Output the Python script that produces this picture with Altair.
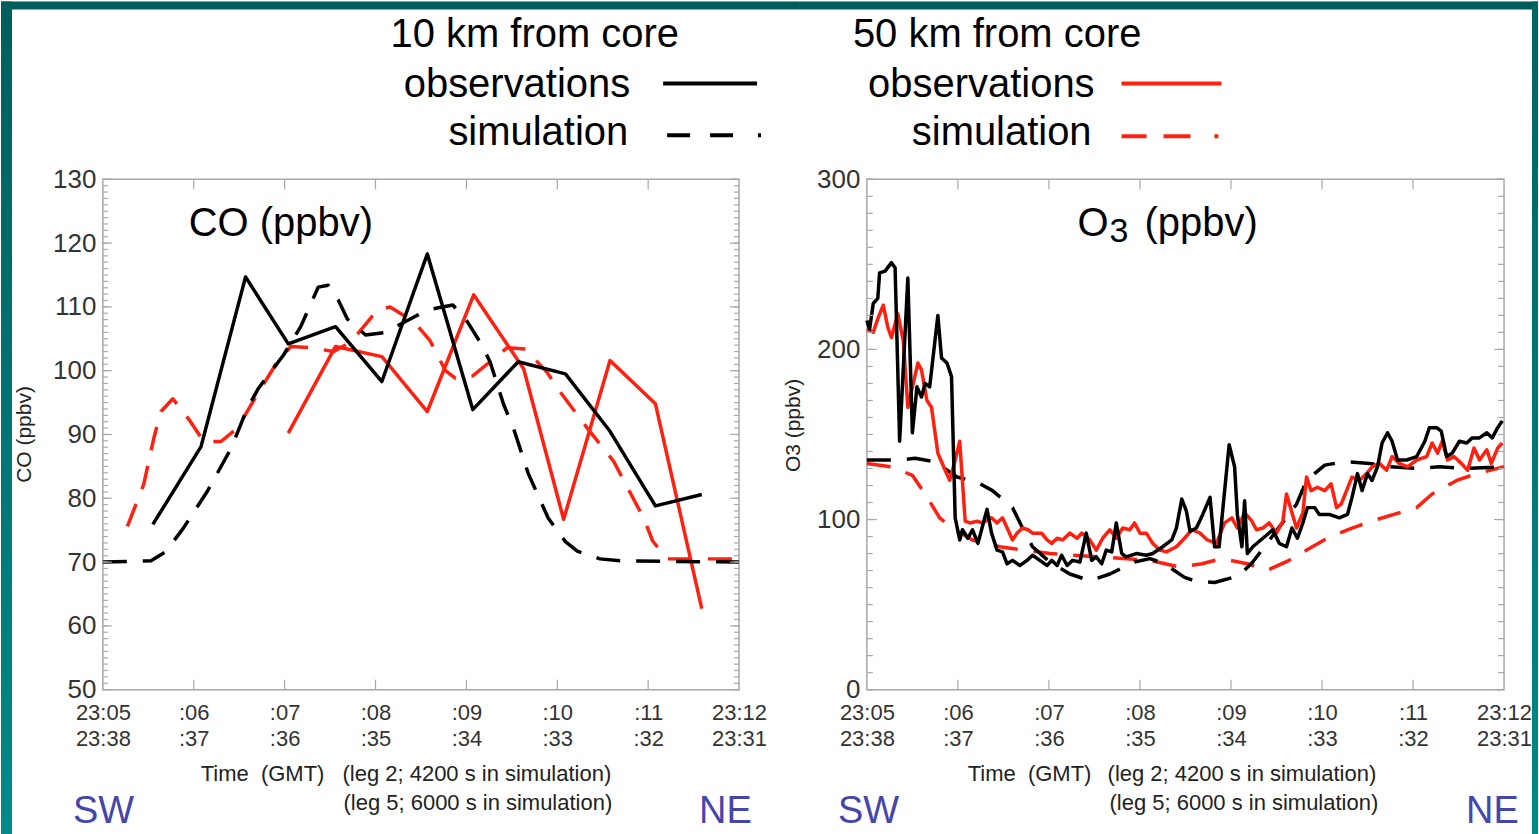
import altair as alt
import pandas as pd

FONT = "Liberation Sans"
RED = "#ff2010"
BLACK = "#000000"
BLUE = "#4646aa"
FRAME = "#a8a8a8"
LABEL = "#333333"
SIM_DASH = [24, 16]
NBSP = "\u00a0"

# ---------------- time axis (minutes after 23:05 on leg 2) ----------------
minutes = [0, 1, 2, 3, 4, 5, 6, 7]
leg2_labels = ["23:05", ":06", ":07", ":08", ":09", ":10", ":11", "23:12"]
leg5_labels = ["23:38", ":37", ":36", ":35", ":34", ":33", ":32", "23:31"]
inner_minutes = [1, 2, 3, 4, 5, 6]

# ---------------- CO (ppbv) ----------------
co_ticks = [50, 60, 70, 80, 90, 100, 110, 120, 130]
co_minor = list(range(50, 131))

co_obs10_t = [0.55, 1.08, 1.57, 2.04, 2.56, 3.07, 3.57, 4.07, 4.57, 5.09, 5.58, 6.08, 6.59]
co_obs10_v = [75.9, 88.1, 114.7, 104.2, 106.9, 98.3, 118.3, 93.9, 101.4, 99.5, 90.5, 78.8, 80.6]

co_obs50_t = [2.04, 2.56, 3.07, 3.57, 4.08, 4.63, 5.07, 5.58, 6.08, 6.59]
co_obs50_v = [90.2, 103.8, 102.2, 93.6, 111.9, 100.3, 76.7, 101.6, 94.8, 62.7]

co_sim10_t = [0.00, 0.53, 0.69, 0.88, 1.15, 1.41, 1.59, 1.71, 1.99, 2.18, 2.37, 2.48, 2.59,
              2.69, 2.89, 3.11, 3.33, 3.57, 3.85, 4.01, 4.15, 4.26, 4.41, 4.52, 4.68, 4.90,
              5.09, 5.22, 5.47, 5.69, 7.00]
co_sim10_v = [70.0, 70.2, 71.6, 75.2, 81.1, 87.8, 94.1, 97.2, 102.5, 107.0, 113.1, 113.4, 111.1,
              108.1, 105.6, 106.0, 107.7, 109.5, 110.3, 107.7, 104.5, 101.4, 94.7, 90.9, 83.9, 76.9,
              73.2, 71.7, 70.5, 70.2, 70.0]

co_sim50_t = [0.27, 0.45, 0.56, 0.64, 0.77, 0.95, 1.11, 1.30, 1.48, 1.70, 1.92, 2.07, 2.29,
              2.54, 2.73, 3.02, 3.16, 3.42, 3.60, 3.77, 3.88, 4.07, 4.26, 4.45, 4.65, 4.89,
              5.03, 5.33, 5.62, 5.95, 6.05, 6.21, 7.00]
co_sim50_v = [75.6, 82.2, 89.4, 93.6, 95.6, 92.3, 88.9, 88.9, 91.0, 96.3, 101.4, 103.8, 103.6,
              103.0, 104.5, 109.5, 110.0, 107.7, 104.7, 100.0, 98.8, 99.2, 101.4, 103.6, 103.4, 99.7,
              96.7, 91.0, 85.8, 76.9, 73.3, 70.5, 70.5]

# ---------------- O3 (ppbv) ----------------
o3_ticks = [0, 100, 200, 300]
o3_minor = list(range(0, 301, 10))

o3_obs10 = [
    (0.00, 217), (0.03, 212), (0.07, 227), (0.12, 230), (0.14, 245), (0.20, 246), (0.27, 251),
    (0.31, 248), (0.36, 146), (0.45, 242), (0.50, 151), (0.55, 178), (0.60, 172), (0.64, 180),
    (0.69, 178), (0.78, 220), (0.82, 195), (0.88, 192), (0.93, 184), (0.97, 101), (1.02, 88),
    (1.05, 94), (1.11, 89), (1.16, 94), (1.22, 86), (1.26, 94), (1.32, 106), (1.37, 92),
    (1.43, 82), (1.49, 81), (1.54, 74), (1.60, 76), (1.68, 73), (1.76, 76), (1.82, 79),
    (1.90, 76), (1.98, 73), (2.03, 76), (2.09, 73), (2.14, 79), (2.20, 73), (2.26, 76),
    (2.34, 75), (2.41, 92), (2.47, 76), (2.52, 78), (2.58, 74), (2.63, 82), (2.69, 81),
    (2.74, 98), (2.80, 80), (2.85, 78), (2.96, 80), (3.07, 79), (3.14, 80), (3.25, 84),
    (3.35, 88), (3.40, 95), (3.46, 112), (3.51, 105), (3.55, 93), (3.62, 95), (3.69, 103),
    (3.77, 113), (3.82, 84), (3.87, 84), (3.98, 144), (4.04, 131), (4.07, 103), (4.12, 84),
    (4.15, 111), (4.18, 80), (4.24, 84), (4.35, 89), (4.46, 94), (4.53, 86), (4.61, 84),
    (4.67, 95), (4.73, 89), (4.79, 98), (4.84, 107), (4.92, 107), (4.97, 103), (5.08, 103),
    (5.19, 101), (5.28, 103), (5.33, 113), (5.39, 127), (5.44, 117), (5.50, 127), (5.55, 123),
    (5.61, 131), (5.66, 145), (5.72, 151), (5.77, 146), (5.83, 135), (5.93, 135), (6.04, 137),
    (6.13, 146), (6.18, 154), (6.26, 154), (6.31, 152), (6.37, 137), (6.43, 139), (6.51, 146),
    (6.59, 145), (6.65, 148), (6.73, 148), (6.81, 151), (6.87, 148), (6.93, 154), (6.98, 158),
]

o3_obs50 = [
    (0.00, 212), (0.07, 210), (0.12, 218), (0.18, 226), (0.23, 213), (0.27, 207), (0.34, 221),
    (0.40, 205), (0.45, 166), (0.56, 192), (0.60, 188), (0.66, 170), (0.71, 166), (0.78, 139),
    (0.86, 129), (0.91, 123), (0.97, 135), (1.02, 146), (1.08, 99), (1.13, 98), (1.21, 99),
    (1.27, 98), (1.37, 101), (1.43, 98), (1.49, 101), (1.55, 94), (1.60, 88), (1.65, 92),
    (1.71, 95), (1.77, 94), (1.82, 92), (1.92, 92), (1.98, 88), (2.03, 86), (2.09, 89),
    (2.15, 88), (2.23, 92), (2.31, 89), (2.36, 92), (2.45, 88), (2.52, 82), (2.59, 89),
    (2.67, 94), (2.74, 89), (2.81, 95), (2.89, 94), (2.94, 98), (3.00, 92), (3.07, 92),
    (3.14, 86), (3.22, 82), (3.29, 81), (3.40, 84), (3.49, 89), (3.57, 94), (3.66, 92),
    (3.74, 88), (3.84, 86), (3.93, 98), (4.01, 101), (4.07, 95), (4.15, 104), (4.23, 99),
    (4.28, 94), (4.35, 95), (4.42, 98), (4.50, 92), (4.57, 99), (4.61, 115), (4.67, 104),
    (4.72, 95), (4.79, 104), (4.83, 125), (4.88, 117), (4.95, 119), (5.03, 117), (5.10, 121),
    (5.16, 107), (5.21, 109), (5.27, 117), (5.33, 125), (5.41, 123), (5.49, 127), (5.55, 131),
    (5.63, 133), (5.71, 129), (5.77, 137), (5.85, 133), (5.94, 131), (6.04, 135), (6.15, 137),
    (6.21, 145), (6.27, 139), (6.32, 146), (6.38, 135), (6.45, 137), (6.53, 133), (6.60, 129),
    (6.67, 142), (6.73, 135), (6.81, 141), (6.86, 133), (6.93, 142), (6.98, 145),
]

o3_sim10 = [
    (0.00, 135), (0.36, 135), (0.53, 136), (0.75, 134), (0.91, 128), (0.99, 125), (1.21, 122),
    (1.38, 117), (1.60, 107), (1.71, 95), (1.82, 84), (2.01, 75), (2.23, 68), (2.45, 64),
    (2.67, 68), (2.94, 75), (3.11, 77), (3.27, 74), (3.49, 66), (3.60, 64), (3.82, 63),
    (4.09, 67), (4.24, 75), (4.48, 92), (4.72, 109), (4.83, 123), (5.03, 132), (5.25, 134),
    (5.52, 133), (5.74, 131), (6.04, 130), (6.29, 131), (6.56, 130), (7.00, 131),
]

o3_sim50 = [
    (0.00, 133), (0.27, 131), (0.50, 126), (0.64, 115), (0.80, 101), (0.94, 95), (1.16, 88),
    (1.46, 84), (2.01, 80), (2.56, 78), (3.11, 76), (3.44, 72), (3.68, 74), (3.90, 77),
    (4.18, 74), (4.39, 70), (4.64, 76), (4.86, 83), (5.06, 89), (5.33, 95), (5.54, 99),
    (6.04, 107), (6.21, 115), (6.48, 123), (6.70, 127), (7.00, 131),
]

# ---------------- page layout (pixels) ----------------
PAGE_W, PAGE_H = 1539, 834
TOP = 178
PLOT_H = 511
CO_X0, CO_W = 102, 637
O3_X0, O3_W = 867, 638
SPLIT = 800  # where the two panels hand over the page decoration

x_scale = alt.Scale(domain=[0, 7], nice=False, zero=False)
co_scale = alt.Scale(domain=[50, 130], nice=False, zero=False)
o3_scale = alt.Scale(domain=[0, 300], nice=False, zero=False)

label_expr = "[" + ",".join(
    f"['{a}','{b}']" for a, b in zip(leg2_labels, leg5_labels)
) + "][round(datum.value)]"

x_axis = alt.Axis(
    values=minutes, labelExpr=label_expr, ticks=False, domain=False, grid=False,
    labelFont=FONT, labelFontSize=22, labelColor=LABEL, labelPadding=13,
    labelLineHeight=26, labelBaseline="top", labelAlign="center",
    labelFlush=False, labelOverlap=False, title=None,
)


def y_axis(values, title, title_x, title_y):
    return alt.Axis(
        values=values, ticks=False, domain=False, grid=False,
        labelFont=FONT, labelFontSize=26, labelColor=LABEL, labelPadding=7,
        labelOverlap=False, labelFlush=False,
        title=title, titleFont=FONT, titleFontSize=21, titleFontWeight="normal",
        titleColor="#222222", titleAngle=270, titleX=title_x, titleY=title_y,
        titleAlign="center", titleBaseline="middle",
    )


co_axis = y_axis(co_ticks, "CO (ppbv)", -78, 255)
o3_axis = y_axis(o3_ticks, "O3 (ppbv)", -73, 246)


def one():
    return alt.Data(values=[{}])


def text(s, x, y, size, color=BLACK, align="left", x0=0):
    return alt.Chart(alt.Data(values=[{"s": s}])).mark_text(
        font=FONT, fontSize=size, color=color, align=align, baseline="alphabetic"
    ).encode(x=alt.value(x - x0), y=alt.value(y - TOP), text="s:N")


def seg(x1, x2, y, color, width, x0, dash=None):
    kw = dict(color=color, strokeWidth=width, strokeCap="butt")
    if dash:
        kw["strokeDash"] = dash
    return alt.Chart(one()).mark_rule(**kw).encode(
        x=alt.value(x1 - x0), x2=alt.value(x2 - x0), y=alt.value(y - TOP)
    )


def band(x1, x2, y1, y2, fill, x0):
    return alt.Chart(one()).mark_rect(fill=fill, strokeWidth=0).encode(
        x=alt.value(x1 - x0), x2=alt.value(x2 - x0),
        y=alt.value(y1 - TOP), y2=alt.value(y2 - TOP),
    )


def y_tick_rules(values, scale, axis, width, length):
    df = pd.DataFrame({"v": values})
    base = alt.Chart(df).mark_rule(color=FRAME, strokeWidth=1.2)
    left = base.encode(y=alt.Y("v:Q", scale=scale, axis=axis),
                       x=alt.value(0), x2=alt.value(length))
    right = base.encode(y=alt.Y("v:Q", scale=scale, axis=axis),
                        x=alt.value(width - length), x2=alt.value(width))
    return [left, right]


def x_tick_rules(length):
    df = pd.DataFrame({"t": inner_minutes})
    base = alt.Chart(df).mark_rule(color=FRAME, strokeWidth=1.2)
    bottom = base.encode(x=alt.X("t:Q", scale=x_scale, axis=x_axis),
                         y=alt.value(PLOT_H), y2=alt.value(PLOT_H - length))
    top = base.encode(x=alt.X("t:Q", scale=x_scale, axis=x_axis),
                      y=alt.value(0), y2=alt.value(length))
    return [bottom, top]


def series(df, color, scale, axis, dash=None):
    kw = dict(color=color, strokeWidth=3.5, strokeCap="butt", strokeJoin="round")
    if dash:
        kw["strokeDash"] = dash
    return alt.Chart(df).mark_line(**kw).encode(
        x=alt.X("t:Q", scale=x_scale, axis=x_axis),
        y=alt.Y("v:Q", scale=scale, axis=axis),
        order="t:Q",
    )


teal_left = alt.LinearGradient(
    gradient="linear", x1=0, x2=0, y1=0, y2=1,
    stops=[alt.GradientStop(color="#005e5e", offset=0),
           alt.GradientStop(color="#008a8a", offset=1)],
)
teal_right = alt.LinearGradient(
    gradient="linear", x1=0, x2=0, y1=0, y2=1,
    stops=[alt.GradientStop(color="#006464", offset=0),
           alt.GradientStop(color="#008888", offset=1)],
)
TEAL_TOP = "#005b5b"

time_caption = "Time" + NBSP * 2 + "(GMT)"
leg2_caption = "(leg 2; 4200 s in simulation)"
leg5_caption = "(leg 5; 6000 s in simulation)"

# ---------------- CO panel ----------------
co_df = {
    "obs10": pd.DataFrame({"t": co_obs10_t, "v": co_obs10_v}),
    "obs50": pd.DataFrame({"t": co_obs50_t, "v": co_obs50_v}),
    "sim10": pd.DataFrame({"t": co_sim10_t, "v": co_sim10_v}),
    "sim50": pd.DataFrame({"t": co_sim50_t, "v": co_sim50_v}),
}

x0 = CO_X0
co_layers = [
    series(co_df["sim50"], RED, co_scale, co_axis, SIM_DASH),
    series(co_df["obs50"], RED, co_scale, co_axis),
    series(co_df["sim10"], BLACK, co_scale, co_axis, SIM_DASH),
    series(co_df["obs10"], BLACK, co_scale, co_axis),
    *y_tick_rules(co_minor, co_scale, co_axis, CO_W, 5),
    *y_tick_rules(co_ticks, co_scale, co_axis, CO_W, 9),
    *x_tick_rules(10),
    band(0, SPLIT, 0, 8, TEAL_TOP, x0),
    band(0, 11, 0, PAGE_H, teal_left, x0),
    text("CO (ppbv)", 188, 235, 40, x0=x0),
    # legend, 10 km from core
    text("10 km from core", 390, 46, 40, x0=x0),
    text("observations", 630, 96, 40, align="right", x0=x0),
    seg(663, 757, 82, BLACK, 4, x0),
    text("simulation", 628, 144, 40, align="right", x0=x0),
    seg(667, 761, 134, BLACK, 4, x0, dash=[23, 20, 23, 25, 4, 100]),
    # time caption and direction
    text(time_caption, 200, 780, 22, color="#222222", x0=x0),
    text(leg2_caption, 342, 780, 22, color="#222222", x0=x0),
    text(leg5_caption, 343, 810, 22, color="#222222", x0=x0),
    text("SW", 72, 823, 38, color=BLUE, x0=x0),
    text("NE", 699, 823, 38, color=BLUE, x0=x0),
]
co_panel = alt.layer(*co_layers).properties(width=CO_W, height=PLOT_H)

# ---------------- O3 panel ----------------
o3_df = {k: pd.DataFrame(v, columns=["t", "v"]) for k, v in
         {"obs10": o3_obs10, "obs50": o3_obs50, "sim10": o3_sim10, "sim50": o3_sim50}.items()}

x0 = O3_X0
o3_layers = [
    series(o3_df["sim50"], RED, o3_scale, o3_axis, SIM_DASH),
    series(o3_df["sim10"], BLACK, o3_scale, o3_axis, SIM_DASH),
    series(o3_df["obs50"], RED, o3_scale, o3_axis),
    series(o3_df["obs10"], BLACK, o3_scale, o3_axis),
    *y_tick_rules(o3_minor, o3_scale, o3_axis, O3_W, 6),
    *y_tick_rules(o3_ticks, o3_scale, o3_axis, O3_W, 10),
    *x_tick_rules(10),
    band(SPLIT, PAGE_W, 0, 8, TEAL_TOP, x0),
    band(1533, PAGE_W, 0, PAGE_H, teal_right, x0),
    text("O", 1078, 235, 40, x0=x0),
    text("3", 1110, 241, 34, x0=x0),
    text("(ppbv)", 1145, 235, 40, x0=x0),
    # legend, 50 km from core
    text("50 km from core", 853, 46, 40, x0=x0),
    text("observations", 1095, 96, 40, align="right", x0=x0),
    seg(1122, 1222, 82, RED, 4, x0),
    text("simulation", 1092, 144, 40, align="right", x0=x0),
    seg(1122, 1222, 135, RED, 4, x0, dash=[25, 17, 27, 24, 4, 100]),
    # time caption and direction
    text(time_caption, 968, 780, 22, color="#222222", x0=x0),
    text(leg2_caption, 1108, 780, 22, color="#222222", x0=x0),
    text(leg5_caption, 1110, 810, 22, color="#222222", x0=x0),
    text("SW", 838, 823, 38, color=BLUE, x0=x0),
    text("NE", 1467, 823, 38, color=BLUE, x0=x0),
]
o3_panel = alt.layer(*o3_layers).properties(width=O3_W, height=PLOT_H)

chart = alt.hconcat(
    co_panel, o3_panel, spacing=O3_X0 - CO_X0 - CO_W, bounds="flush", padding=0
).configure(
    background="white", font=FONT
).configure_view(
    stroke=FRAME, strokeWidth=1.5
)

chart.save("out.html", embed_options={"renderer": "svg", "actions": False})
